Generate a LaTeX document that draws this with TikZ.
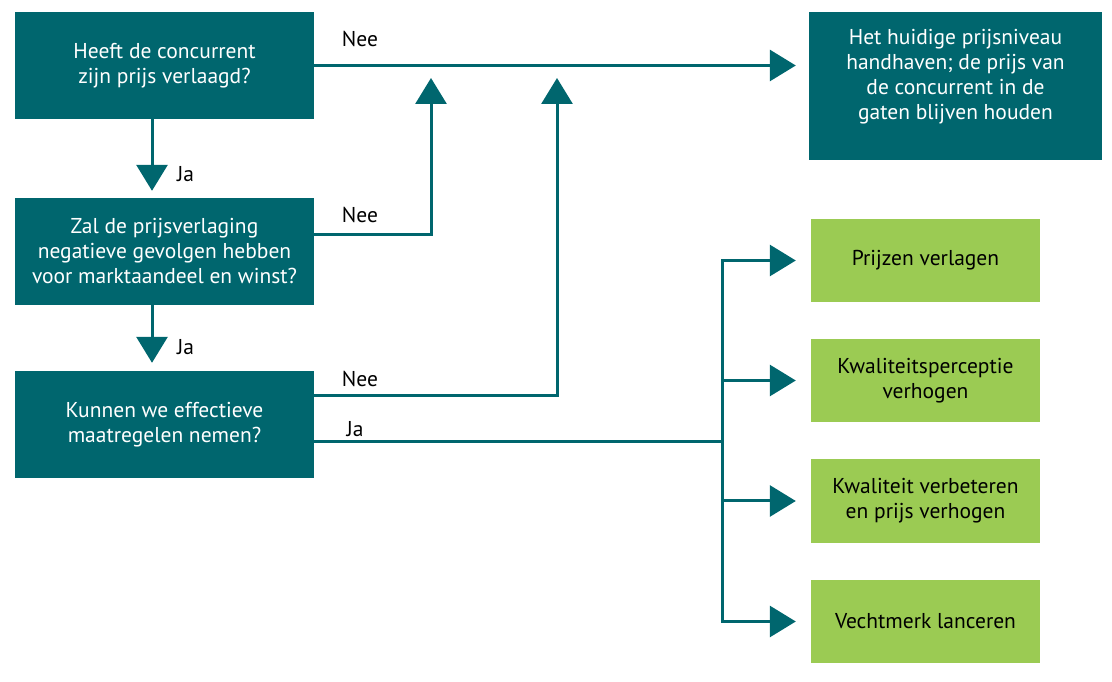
\documentclass[tikz,border=0pt]{standalone}
\usepackage{fontspec}
\setmainfont{PT Sans}
\usepackage{xcolor}
\usepackage{tikz}
\usetikzlibrary{calc,arrows.meta}
\definecolor{teal}{HTML}{00666E}
\definecolor{lime}{HTML}{9BCB53}
\definecolor{ink}{HTML}{000000}
\tikzset{
  question/.style={fill=teal, text=white, align=center, minimum width=299pt,
    minimum height=107pt, inner sep=0pt, font=\fontsize{21.5}{25}\selectfont},
  keepbox/.style={fill=teal, minimum width=293pt, minimum height=148pt, inner sep=0pt},
  option/.style={fill=lime, text=ink, align=center, minimum width=229pt,
    minimum height=83pt, inner sep=0pt, font=\fontsize{21.5}{25}\selectfont},
  flow/.style={draw=teal, line width=3pt},
  tip/.style={-{Triangle[length=26pt,width=31pt]}},
  answer/.style={anchor=base, text=ink, inner sep=0pt, font=\fontsize{21.5}{25}\selectfont}
}

\begin{document}
\begin{tikzpicture}[x=1pt,y=1pt]
  \useasboundingbox (0,0) rectangle (1112,681);

  % vragen
  \node[question] (q1) at (164.5,615.5) {Heeft de concurrent\\zijn prijs verlaagd?};
  \node[question] (q2) at (164.5,429.5) {Zal de prijsverlaging\\negatieve gevolgen hebben\\voor marktaandeel en winst?};
  \node[question] (q3) at (164.5,256.5) {Kunnen we effectieve\\maatregelen nemen?};

  % prijs handhaven
  \node[keepbox] (keep) at (955.5,595) {};
  \node[text=white, align=center, inner sep=0pt, font=\fontsize{21.5}{25}\selectfont] (keeptext) at (955.5,604)
    {Het huidige prijsniveau\\handhaven; de prijs van\\de concurrent in de\\gaten blijven houden};

  % mogelijke reacties
  \foreach \i/\y/\t in {1/420.5/{Prijzen verlagen},
                        2/300.5/{Kwaliteitsperceptie\\verhogen},
                        3/180/{Kwaliteit verbeteren\\en prijs verhogen},
                        4/59.5/{Vechtmerk lanceren}}{
    \node[option] (g\i) at (925.5,\y) {\t};
  }

  \coordinate (up1) at (431,603);
  \coordinate (up2) at (557,603);
  \coordinate (split) at (722,239);

  % verbindingen
  \draw[flow,tip,shorten >=13pt] (q1.east) -- (q1.east -| keep.west);
  \draw[flow,tip,shorten >=7pt] ([xshift=-12.5pt]q1.south) -- ([xshift=-12.5pt]q2.north);
  \draw[flow,tip,shorten >=8pt] ([xshift=-12.5pt]q2.south) -- ([xshift=-12.5pt]q3.north);
  \draw[flow,tip] ([yshift=16.5pt]q2.east) -| (up1);
  \draw[flow,tip] ([yshift=28.5pt]q3.east) -| (up2);
  \draw[flow] ([yshift=-17.5pt]q3.east) -- (split);
  \foreach \i in {1,...,4}{
    \draw[flow,tip,shorten >=15pt] (split) |- (g\i.west);
  }

  \node[answer] (nee1) at (360,634) {Nee};
  \node[answer] (nee2) at (360,458) {Nee};
  \node[answer] (nee3) at (360,294) {Nee};
  \node[answer] (ja1) at (185.5,499) {Ja};
  \node[answer] (ja2) at (185.5,326) {Ja};
  \node[answer] (ja3) at (355,244) {Ja};
\end{tikzpicture}
\end{document}
